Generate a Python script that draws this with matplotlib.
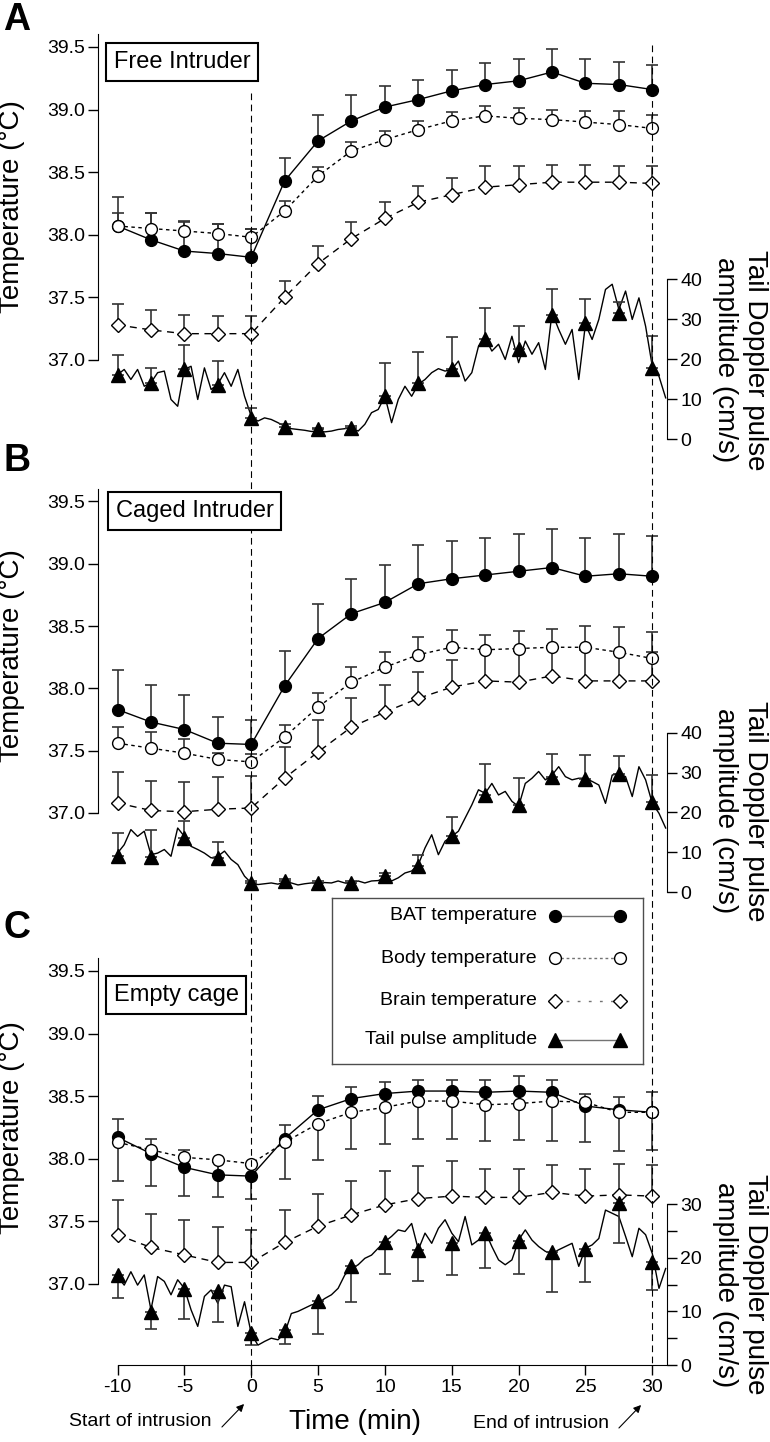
import matplotlib
matplotlib.use('Agg')
import matplotlib.pyplot as plt
import numpy as np
from matplotlib.lines import Line2D
from matplotlib import transforms
from matplotlib.ticker import FormatStrFormatter, FixedLocator

plt.rcParams['font.family'] = ['Liberation Sans', 'DejaVu Sans']
plt.rcParams['axes.unicode_minus'] = False

# sample times of the means (min)
time = [-10, -7.5, -5, -2.5, 0, 2.5, 5, 7.5, 10, 12.5, 15, 17.5, 20, 22.5, 25, 27.5, 30]

# time base of the continuous tail Doppler trace (min)
trace_time = [-10, -9.5, -9, -8.5, -8, -7.5, -7, -6.5, -6, -5.5, -5, -4.5, -4, -3.5, -3, -2.5,
              -2, -1.5, -1, -0.5, 0, 0.5, 1, 1.5, 2, 2.5, 3, 3.5, 4, 4.5, 5, 5.5, 6, 6.5,
              7, 7.5, 8, 8.5, 9, 9.5, 10, 10.5, 11, 11.5, 12, 12.5, 13, 13.5, 14, 14.5,
              15, 15.5, 16, 16.5, 17, 17.5, 18, 18.5, 19, 19.5, 20, 20.5, 21, 21.5, 22,
              22.5, 23, 23.5, 24, 24.5, 25, 25.5, 26, 26.5, 27, 27.5, 28, 28.5, 29, 29.5,
              30, 30.5, 31]

# ---- A: free intruder
a_bat = [38.07, 37.96, 37.87, 37.85, 37.82, 38.43, 38.75, 38.91, 39.02, 39.08, 39.15,
         39.20, 39.23, 39.30, 39.21, 39.20, 39.16]
a_bat_err = [0.23, 0.21, 0.24, 0.24, 0.23, 0.18, 0.21, 0.21, 0.17, 0.16, 0.17, 0.17,
             0.17, 0.18, 0.19, 0.18, 0.20]
a_body = [38.07, 38.05, 38.03, 38.01, 37.98, 38.19, 38.47, 38.67, 38.76, 38.84, 38.91,
          38.95, 38.93, 38.92, 38.90, 38.88, 38.85]
a_body_err = [0.10, 0.12, 0.07, 0.08, 0.07, 0.08, 0.07, 0.07, 0.07, 0.07, 0.07, 0.08,
              0.08, 0.08, 0.09, 0.11, 0.11]
a_brain = [37.28, 37.24, 37.21, 37.21, 37.21, 37.50, 37.77, 37.97, 38.13, 38.26, 38.32,
           38.38, 38.40, 38.42, 38.42, 38.42, 38.41]
a_brain_err = [0.17, 0.16, 0.15, 0.14, 0.14, 0.13, 0.14, 0.13, 0.13, 0.13, 0.13, 0.17,
               0.15, 0.14, 0.14, 0.13, 0.14]
a_tail = [16.0, 14.2, 17.5, 13.5, 5.4, 3.2, 2.5, 2.9, 10.8, 14.2, 17.5, 25.0, 22.5, 31.2,
          29.2, 31.7, 17.9]
a_tail_err = [5.0, 3.7, 6.2, 6.1, 2.5, 0.6, 0.3, 0.5, 8.4, 7.6, 8.1, 7.9, 5.8, 6.3, 5.8,
              2.7, 7.9]
a_trace = [16.2, 17.5, 15.0, 17.5, 13.3, 14.2, 16.7, 17.1, 10.0, 8.3, 17.5, 18.3, 10.0,
           17.9, 12.5, 13.8, 16.7, 13.3, 17.5, 10.8,
           5.8, 4.6, 5.4, 5.0, 4.2, 3.3, 2.7, 2.5, 2.3, 2.0, 2.1, 1.9, 2.1, 2.5, 2.7, 3.0,
           2.1, 3.8, 6.7, 7.5, 10.8,
           4.2, 10.0, 13.3, 10.8, 13.8, 15.0, 16.7, 17.7, 17.1, 17.5, 19.6, 14.6, 16.7,
           23.3, 25.4, 22.1, 23.8, 20.0, 25.8, 19.2, 24.6, 21.3, 24.2, 17.5, 31.7, 27.5,
           23.8, 27.5, 15.0, 28.8, 25.0, 30.0, 37.5, 38.8, 32.5, 37.1, 30.0, 35.4, 28.3,
           18.3, 15.8, 10.4]

# ---- B: caged intruder
b_bat = [37.83, 37.73, 37.67, 37.56, 37.55, 38.02, 38.40, 38.60, 38.69, 38.84, 38.88,
         38.91, 38.94, 38.97, 38.90, 38.92, 38.90]
b_bat_err = [0.32, 0.30, 0.28, 0.21, 0.20, 0.28, 0.28, 0.28, 0.30, 0.31, 0.30, 0.30,
             0.30, 0.31, 0.31, 0.32, 0.32]
b_body = [37.56, 37.52, 37.48, 37.43, 37.41, 37.61, 37.85, 38.05, 38.17, 38.27, 38.33,
          38.31, 38.32, 38.33, 38.33, 38.29, 38.24]
b_body_err = [0.13, 0.13, 0.11, 0.05, 0.06, 0.10, 0.11, 0.12, 0.12, 0.14, 0.14, 0.12,
              0.14, 0.15, 0.17, 0.20, 0.21]
b_brain = [37.08, 37.02, 37.01, 37.03, 37.04, 37.28, 37.49, 37.69, 37.81, 37.92, 38.01,
           38.06, 38.05, 38.10, 38.06, 38.06, 38.06]
b_brain_err = [0.25, 0.24, 0.24, 0.26, 0.26, 0.25, 0.26, 0.23, 0.22, 0.21, 0.22, 0.25,
               0.25, 0.24, 0.25, 0.23, 0.23]
b_tail = [9.0, 8.8, 13.6, 8.6, 2.3, 2.8, 2.4, 2.4, 4.0, 6.5, 14.0, 24.4, 22.0, 29.0, 28.4,
          29.6, 22.6]
b_tail_err = [5.8, 6.9, 4.2, 4.1, 0.5, 0.5, 0.5, 0.5, 0.8, 2.9, 4.8, 7.7, 6.6, 5.7, 6.0,
              4.7, 6.7]
b_trace = [9.8, 11.9, 15.7, 14.0, 15.3, 9.4, 9.8, 10.7, 9.0, 16.1, 14.0, 11.5, 10.7, 9.8,
           8.6, 9.0, 10.3, 8.2, 6.9, 4.0,
           2.3, 1.9, 2.1, 2.3, 2.0, 2.6, 2.3, 1.8, 2.1, 2.3, 2.3, 2.4, 2.3, 2.8, 2.3, 2.4,
           2.8, 2.3, 2.8, 2.9, 3.6,
           2.8, 3.6, 4.8, 5.3, 6.9, 11.1, 14.4, 9.4, 12.8, 14.0, 15.3, 18.6, 21.9, 25.7,
           24.8, 27.3, 24.4, 25.3, 22.8, 21.5, 27.3, 28.6, 30.3, 28.2, 29.4, 31.5, 29.0,
           28.2, 28.6, 28.6, 27.8, 26.9, 22.3, 29.4, 29.8, 29.0, 24.0, 31.5, 28.2, 22.3,
           19.8, 16.1]

# ---- C: empty cage
c_bat = [38.17, 38.04, 37.93, 37.87, 37.86, 38.16, 38.39, 38.48, 38.52, 38.54, 38.54,
         38.53, 38.54, 38.53, 38.42, 38.39, 38.37]
c_bat_err = [0.15, 0.12, 0.14, 0.10, 0.10, 0.11, 0.11, 0.09, 0.09, 0.09, 0.09, 0.10,
             0.12, 0.10, 0.10, 0.10, 0.16]
c_body = [38.13, 38.07, 38.01, 37.99, 37.96, 38.13, 38.28, 38.37, 38.41, 38.46, 38.46,
          38.43, 38.44, 38.46, 38.45, 38.37, 38.37]
c_body_err = [0.31, 0.29, 0.31, 0.30, 0.28, 0.29, 0.29, 0.29, 0.29, 0.30, 0.30, 0.29,
              0.29, 0.32, 0.32, 0.31, 0.30]
c_brain = [37.39, 37.29, 37.23, 37.17, 37.17, 37.33, 37.46, 37.55, 37.63, 37.68, 37.70,
           37.69, 37.69, 37.73, 37.70, 37.71, 37.70]
c_brain_err = [0.28, 0.27, 0.28, 0.28, 0.26, 0.26, 0.26, 0.27, 0.27, 0.26, 0.28, 0.23,
               0.23, 0.22, 0.22, 0.25, 0.25]
c_tail = [16.8, 9.9, 14.1, 13.8, 5.9, 6.6, 11.9, 18.4, 23.0, 21.4, 22.8, 24.6, 23.2, 21.0,
          21.7, 30.2, 19.3]
c_tail_err = [4.3, 3.2, 5.6, 5.8, 2.1, 2.6, 6.2, 6.7, 6.1, 5.7, 6.1, 6.5, 6.2, 7.4, 6.2,
              7.4, 5.4]
c_trace = [16.5, 14.9, 17.4, 14.9, 16.8, 10.3, 16.5, 15.6, 13.1, 15.9, 14.3, 10.3, 7.2,
           12.8, 14.0, 11.5, 14.9, 14.6, 7.2, 11.8,
           5.9, 3.7, 4.4, 5.0, 4.7, 5.9, 9.6, 10.0, 10.6, 11.2, 11.5, 12.4, 13.1, 14.3,
           16.8, 18.0, 18.7, 19.9, 20.5, 21.8, 23.0,
           24.0, 25.2, 24.9, 26.4, 21.5, 24.6, 22.7, 25.5, 27.1, 24.6, 23.0, 27.7, 22.4,
           23.3, 24.9, 22.1, 19.6, 18.7, 19.6, 23.3, 25.2, 23.3, 22.1, 21.2, 20.8, 21.5,
           22.1, 22.7, 18.4, 21.8, 22.4, 23.6, 28.9, 28.3, 27.7, 24.0, 20.2, 25.5, 24.3,
           20.8, 14.3, 18.0]

W, H = 770, 1442
fig = plt.figure(figsize=(W / 100, H / 100), dpi=100)

XLIM = (-11.46, 31.1)
ECOL = '0.2'


def one_sided(err, down):
    z = np.zeros(len(err))
    return [np.array(err), z] if down else [z, np.array(err)]


def draw_panel(top_px, bot_px, temp_lim, tail_lim, tail_top, title, title_xy,
               bat, bat_err, body, body_err, brain, brain_err,
               tail, tail_err, trace, down, label_frac, show_x):
    rect = [98 / W, 1 - bot_px / H, 569 / W, (bot_px - top_px) / H]
    ax = fig.add_axes(rect)
    ax.set_facecolor('none')
    ax.set_xlim(*XLIM)
    ax.set_ylim(*temp_lim)

    # error bars (one sided)
    ax.errorbar(time, bat, yerr=one_sided(bat_err, False), fmt='none', ecolor=ECOL,
                elinewidth=1.2, capsize=4, capthick=1.2, zorder=2)
    ax.errorbar(time, body, yerr=one_sided(body_err, down), fmt='none', ecolor=ECOL,
                elinewidth=1.2, capsize=4, capthick=1.2, zorder=2)
    ax.errorbar(time, brain, yerr=one_sided(brain_err, False), fmt='none', ecolor=ECOL,
                elinewidth=1.2, capsize=4, capthick=1.2, zorder=2)

    ax.plot(time, bat, '-', color='black', lw=1.0, zorder=3)
    ax.plot(time, brain, color='black', lw=1.0, dashes=(5, 4), zorder=3)
    ax.plot(time, body, color='black', lw=1.0, dashes=(2.5, 2.5), zorder=3)
    ax.plot(time, bat, 'o', ms=8.5, mfc='black', mec='black', ls='none', zorder=4)
    ax.plot(time, brain, 'D', ms=7.5, mfc='white', mec='black', mew=1.0, ls='none', zorder=4)
    ax.plot(time, body, 'o', ms=8.5, mfc='white', mec='black', mew=1.0, ls='none', zorder=5)

    for s in ['top', 'right']:
        ax.spines[s].set_visible(False)
    ax.spines['left'].set_bounds(37.0, 39.6)
    ax.set_yticks([37.0, 37.5, 38.0, 38.5, 39.0, 39.5])
    ax.yaxis.set_major_formatter(FormatStrFormatter('%.1f'))
    ax.tick_params(axis='y', direction='out', length=7, width=1, labelsize=14, pad=2.5)
    if show_x:
        ax.spines['bottom'].set_bounds(-10, 31)
        ax.set_xticks([-10, -5, 0, 5, 10, 15, 20, 25, 30])
        ax.tick_params(axis='x', direction='out', length=7, width=1, labelsize=14, pad=3)
    else:
        ax.spines['bottom'].set_visible(False)
        ax.set_xticks([])

    ax.text(-0.151, label_frac[0], 'Temperature (°C)', transform=ax.transAxes,
            rotation=90, ha='center', va='center', fontsize=20)

    # tail pulse amplitude on the right axis
    ax2 = ax.twinx()
    ax2.set_xlim(*XLIM)
    ax2.set_ylim(*tail_lim)
    ax2.plot(trace_time, trace, '-', color='black', lw=1.0, zorder=2)
    ax2.errorbar(time, tail, yerr=one_sided(tail_err, down), fmt='none', ecolor=ECOL,
                 elinewidth=1.2, capsize=4, capthick=1.2, zorder=3)
    ax2.plot(time, tail, '^', ms=9.5, mfc='black', mec='black', ls='none', zorder=4)
    for s in ['top', 'left', 'bottom']:
        ax2.spines[s].set_visible(False)
    ax2.spines['right'].set_bounds(0, tail_top)
    ax2.set_yticks(list(range(0, tail_top + 1, 10)))
    if tail_top == 30:
        ax2.yaxis.set_minor_locator(FixedLocator([5, 15, 25]))
        ax2.tick_params(axis='y', which='minor', direction='out', length=7, width=1)
    ax2.tick_params(axis='y', direction='out', length=7, width=1, labelsize=14, pad=2.5)
    ax2.text(1.128, label_frac[1], 'Tail Doppler pulse\namplitude (cm/s)',
             transform=ax.transAxes, rotation=270, ha='center', va='center',
             fontsize=20, multialignment='center')

    fig.text(title_xy[0] / W, 1 - title_xy[1] / H, title, fontsize=17, ha='center',
             va='center', bbox=dict(boxstyle='square,pad=0.33', fc='white', ec='black', lw=1.5))
    return ax


draw_panel(28.2, 447.6, (36.30, 39.65), (-2.03, 102.8), 40, 'Free Intruder', (182, 62),
           a_bat, a_bat_err, a_body, a_body_err, a_brain, a_brain_err,
           a_tail, a_tail_err, a_trace, False, (0.575, 0.209), False)
draw_panel(482.8, 900.2, (36.30, 39.65), (-2.03, 102.8), 40, 'Caged Intruder', (194.5, 511),
           b_bat, b_bat_err, b_body, b_body_err, b_brain, b_brain_err,
           b_tail, b_tail_err, b_trace, False, (0.585, 0.214), False)
axc = draw_panel(952.2, 1365.0, (36.35, 39.65), (0, 77.0), 30, 'Empty cage', (176, 995),
                 c_bat, c_bat_err, c_body, c_body_err, c_brain, c_brain_err,
                 c_tail, c_tail_err, c_trace, True, (0.574, 0.195), True)

# panel letters
for letter, ypx in [('A', 20), ('B', 461), ('C', 928)]:
    fig.text(17 / W, 1 - ypx / H, letter, fontsize=27, fontweight='bold',
             ha='center', va='center')

# intrusion markers across all panels
blend = transforms.blended_transform_factory(axc.transData, fig.transFigure)
fig.add_artist(Line2D([0, 0], [1 - 93 / H, 1 - 1380 / H], transform=blend,
                      color='black', lw=0.8, dashes=(6, 4)))
fig.add_artist(Line2D([30, 30], [1 - 45 / H, 1 - 1365 / H], transform=blend,
                      color='black', lw=0.8, dashes=(6, 4)))

fig.text(355 / W, 1 - 1422 / H, 'Time (min)', fontsize=20, ha='center', va='center')
fig.text(140 / W, 1 - 1422 / H, 'Start of intrusion', fontsize=14, ha='center', va='center')
fig.text(541 / W, 1 - 1424 / H, 'End of intrusion', fontsize=14, ha='center', va='center')
fig.add_artist(matplotlib.patches.FancyArrowPatch(
    (220 / W, 1 - 1429 / H), (246 / W, 1 - 1402 / H), transform=fig.transFigure,
    arrowstyle='-|>', mutation_scale=11, lw=0.8, color='black'))
fig.add_artist(matplotlib.patches.FancyArrowPatch(
    (617 / W, 1 - 1430 / H), (643 / W, 1 - 1403 / H), transform=fig.transFigure,
    arrowstyle='-|>', mutation_scale=11, lw=0.8, color='black'))

# legend box
axl = fig.add_axes([332 / W, 1 - 1064 / H, (643 - 332) / W, (1064 - 898) / H])
axl.set_xlim(332, 643)
axl.set_ylim(1064, 898)
axl.set_xticks([])
axl.set_yticks([])
for s in axl.spines.values():
    s.set_linewidth(1.0)
    s.set_color('0.3')
leg_rows = [
    ('BAT temperature', 'o', 'black', '-', 8.5),
    ('Body temperature', 'o', 'white', (0, (2, 2)), 8.5),
    ('Brain temperature', 'D', 'white', (0, (2, 6)), 7.5),
    ('Tail pulse amplitude', '^', 'black', '-', 9.5),
]
for (lab, mk, fc, ls, ms), yy in zip(leg_rows, [915.6, 958.1, 1000.9, 1040.0]):
    axl.text(537, yy, lab, fontsize=14, ha='right', va='center')
    axl.plot([555, 620], [yy, yy], color='0.45', lw=1.0, ls=ls)
    axl.plot([555, 620], [yy, yy], mk, ms=ms, mfc=fc, mec='black', mew=1.0, ls='none')

fig.savefig('out.png', dpi=100)
